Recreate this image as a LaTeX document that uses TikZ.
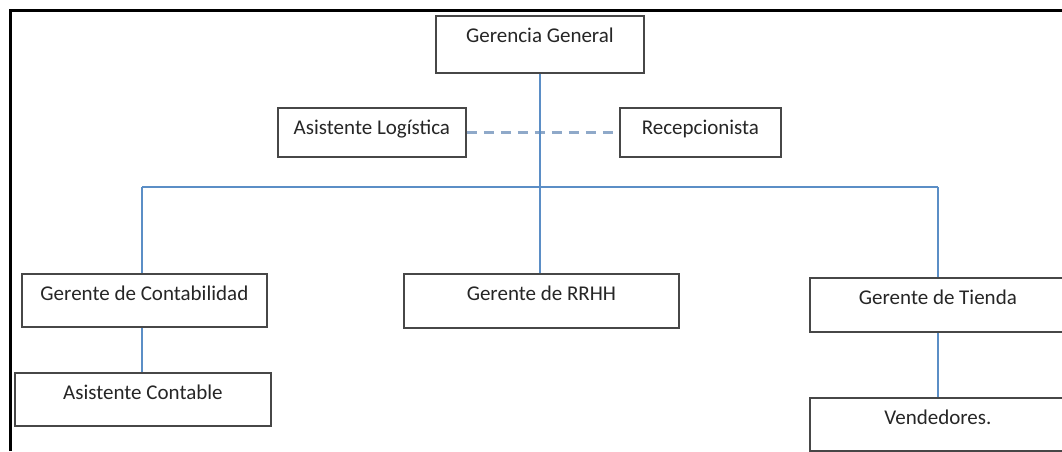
\documentclass[tikz,border=0pt]{standalone}
\usepackage{fontspec}
\setmainfont{Carlito}
\definecolor{linkblue}{HTML}{5B8EC6}
\definecolor{dashblue}{HTML}{8FA9C9}
\definecolor{boxgray}{HTML}{474747}
\begin{document}
\begin{tikzpicture}[x=1pt,y=-1pt,
  orgbox/.style={draw=boxgray, line width=1.8pt, rectangle, anchor=north west,
    inner sep=0pt, align=center, text height=27pt,
    font=\fontsize{21}{25}\selectfont, text=black!85},
  link/.style={draw=linkblue, line width=2.4pt},
  dashlink/.style={draw=dashblue, line width=2.6pt, dash pattern=on 10pt off 7pt}]
\useasboundingbox (0,0) rectangle (1062,451);
\fill[white] (0,0) rectangle (1062,451);
% frame (top and left edges visible)
\draw[black, line width=3pt] (10.5,451) -- (10.5,10.5) -- (1062,10.5);
% boxes
\node[orgbox, minimum width=208pt, text depth=30pt] (gg) at (435,15) {Gerencia General};
\node[orgbox, minimum width=188pt, text depth=22pt] (al) at (277,107) {Asistente Logística};
\node[orgbox, minimum width=161pt, text depth=22pt] (rec) at (619,107) {Recepcionista};
\node[orgbox, minimum width=245pt, text depth=26pt] (gc) at (21,273) {Gerente de Contabilidad};
\node[orgbox, minimum width=256pt, text depth=26pt] (ac) at (14,372) {Asistente Contable};
\node[orgbox, minimum width=275pt, text depth=27pt] (rrhh) at (403,273) {Gerente de RRHH};
\node[orgbox, minimum width=256pt, text depth=27pt] (gt) at (809,277) {Gerente de Tienda};
\node[orgbox, minimum width=256pt, text depth=26pt] (ven) at (809,397) {Vendedores.};
% connectors
\coordinate (bl) at (142,187);
\coordinate (br) at (938,187);
\draw[dashlink] (al.east) -- (rec.west);
\draw[link] (gg.south) -- (gg.south |- rrhh.north);
\draw[link] (bl) -- (br);
\draw[link] (bl) -- (bl |- gc.north);
\draw[link] (br) -- (br |- gt.north);
\draw[link] (gc.south -| bl) -- (bl |- ac.north);
\draw[link] (gt.south -| br) -- (br |- ven.north);
\end{tikzpicture}
\end{document}
